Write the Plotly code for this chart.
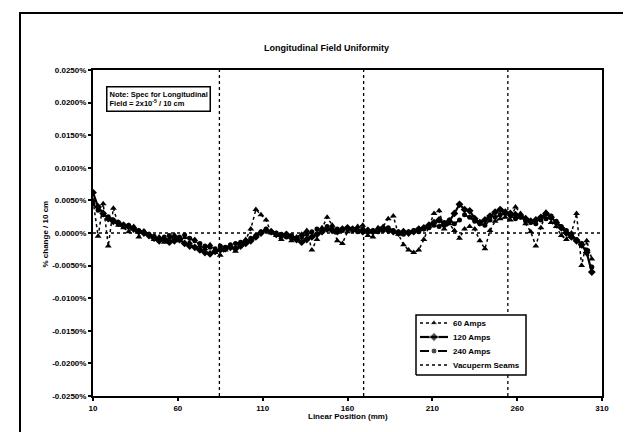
import plotly.graph_objects as go

# ---- data (values in % change / 10 cm) ----
positions = [10, 13, 16, 19, 22, 25, 28, 31, 34, 37, 40, 43, 46, 49, 52, 55, 58, 61, 64, 67,
             70, 73, 76, 79, 82, 85, 88, 91, 94, 97, 100, 103, 106, 109, 112, 115, 118, 121, 124, 127,
             130, 133, 136, 139, 142, 145, 148, 151, 154, 157, 160, 163, 166, 169, 172, 175, 178, 181, 184, 187,
             190, 193, 196, 199, 202, 205, 208, 211, 214, 217, 220, 223, 226, 229, 232, 235, 238, 241, 244, 247,
             250, 253, 256, 259, 262, 265, 268, 271, 274, 277, 280, 283, 286, 289, 292, 295, 298, 301, 304]

amps_120 = [0.0062, 0.0040, 0.0030, 0.0022, 0.0018, 0.0015, 0.0012, 0.0010, 0.0006, 0.0002,
            0.0000, -0.0004, -0.0008, -0.0012, -0.0010, -0.0014, -0.0012, -0.0010, -0.0016, -0.0020,
            -0.0022, -0.0026, -0.0030, -0.0032, -0.0028, -0.0026, -0.0024, -0.0022, -0.0024, -0.0020,
            -0.0016, -0.0012, -0.0006, 0.0000, 0.0004, 0.0002, -0.0002, -0.0004, -0.0002, -0.0006,
            -0.0010, -0.0014, -0.0010, -0.0006, -0.0002, 0.0002, 0.0006, 0.0004, 0.0002, 0.0006,
            0.0008, 0.0006, 0.0004, 0.0002, 0.0004, 0.0002, 0.0004, 0.0006, 0.0004, 0.0002,
            0.0000, 0.0002, 0.0000, 0.0002, 0.0006, 0.0008, 0.0012, 0.0016, 0.0020, 0.0012,
            0.0018, 0.0030, 0.0044, 0.0036, 0.0034, 0.0022, 0.0016, 0.0020, 0.0026, 0.0032,
            0.0036, 0.0032, 0.0030, 0.0028, 0.0026, 0.0022, 0.0018, 0.0020, 0.0024, 0.0030,
            0.0024, 0.0016, 0.0008, 0.0000, -0.0006, -0.0012, -0.0018, -0.0030, -0.0060]

amps_240 = [0.0045, 0.0035, 0.0028, 0.0025, 0.0020, 0.0016, 0.0010, 0.0012, 0.0008, 0.0004,
            0.0002, -0.0002, -0.0005, -0.0009, -0.0006, -0.0004, -0.0008, -0.0006, -0.0003, -0.0008,
            -0.0012, -0.0016, -0.0020, -0.0022, -0.0024, -0.0020, -0.0022, -0.0018, -0.0016, -0.0014,
            -0.0012, -0.0008, -0.0004, 0.0002, 0.0006, 0.0002, 0.0000, -0.0002, -0.0006, -0.0004,
            -0.0008, -0.0006, -0.0002, 0.0002, 0.0006, 0.0004, 0.0010, 0.0008, 0.0006, 0.0004,
            0.0006, 0.0004, 0.0002, 0.0006, 0.0002, 0.0004, 0.0002, 0.0004, 0.0008, 0.0004,
            0.0002, -0.0002, 0.0002, 0.0004, 0.0002, 0.0006, 0.0008, 0.0012, 0.0010, 0.0016,
            0.0020, 0.0014, 0.0020, 0.0028, 0.0024, 0.0018, 0.0014, 0.0012, 0.0020, 0.0024,
            0.0028, 0.0030, 0.0026, 0.0022, 0.0024, 0.0018, 0.0016, 0.0014, 0.0020, 0.0022,
            0.0026, 0.0018, 0.0010, 0.0004, -0.0004, -0.0010, -0.0016, -0.0026, -0.0052]

amps_60 = [0.0050, -0.0005, 0.0045, -0.0020, 0.0038, 0.0012, 0.0008, 0.0002, 0.0010, -0.0006,
           0.0003, -0.0002, -0.0010, -0.0006, -0.0014, -0.0008, -0.0003, -0.0012, -0.0007, -0.0015,
           -0.0010, -0.0020, -0.0024, -0.0018, -0.0030, -0.0034, -0.0026, -0.0020, -0.0028, -0.0016,
           -0.0010, 0.0006, 0.0036, 0.0028, 0.0020, 0.0000, -0.0004, -0.0010, -0.0004, -0.0012,
           -0.0006, -0.0002, 0.0004, -0.0026, -0.0010, 0.0008, 0.0024, 0.0012, -0.0012, -0.0016,
           0.0002, 0.0006, 0.0010, 0.0012, -0.0004, -0.0006, 0.0008, 0.0010, 0.0022, 0.0026,
           -0.0002, -0.0018, -0.0026, -0.0030, -0.0026, -0.0010, 0.0010, 0.0030, 0.0034, 0.0006,
           0.0014, 0.0004, -0.0008, 0.0006, 0.0010, 0.0006, -0.0012, -0.0024, 0.0004, 0.0018,
           0.0022, 0.0024, 0.0020, 0.0040, 0.0030, 0.0014, 0.0002, -0.0020, 0.0008, 0.0032,
           0.0016, 0.0010, -0.0004, -0.0010, 0.0000, 0.0030, -0.0050, -0.0012, -0.0040]

seam_positions = [84.5, 169.5, 254.5]

y_ticks = [0.025, 0.020, 0.015, 0.010, 0.005, 0.0, -0.005, -0.010, -0.015, -0.020, -0.025]
x_ticks = [10, 60, 110, 160, 210, 260, 310]

series_names = ["60 Amps", "120 Amps", "240 Amps", "Vacuperm Seams"]
title = "Longitudinal Field Uniformity"
x_title = "Linear Position (mm)"
y_title = "% change / 10 cm"
note = "Note: Spec for Longitudinal<br>Field = 2x10<sup>-5</sup> / 10 cm"

FONT = "Liberation Sans, Arial, sans-serif"

# plot area in pixels
W, H = 631, 432
L, R, T, B = 85, 594, 62, 388
pw, ph = R - L, B - T


def px(x):
    return (x - L) / pw


def py(y):
    return (B - y) / ph


styles = [
    dict(mode="lines+markers", line=dict(color="black", width=1.5, dash="dot"),
         marker=dict(symbol="triangle-up", size=6, color="black")),
    dict(mode="lines+markers", line=dict(color="black", width=2.2),
         marker=dict(symbol="diamond", size=6, color="black")),
    dict(mode="lines+markers", line=dict(color="black", width=1.8, dash="dash"),
         marker=dict(symbol="circle", size=5, color="black")),
    dict(mode="lines", line=dict(color="black", width=1.3, dash="dot")),
]

fig = go.Figure()

for name, vals, st in zip(series_names[:3], [amps_60, amps_120, amps_240], styles[:3]):
    fig.add_trace(go.Scatter(x=positions, y=vals, name=name, showlegend=False, **st))

sx, sy = [], []
for s in seam_positions:
    sx += [s, s, None]
    sy += [y_ticks[-1], y_ticks[0], None]
fig.add_trace(go.Scatter(x=sx, y=sy, name=series_names[3], showlegend=False, **styles[3]))

# zero reference line
fig.add_trace(go.Scatter(
    x=[x_ticks[0], x_ticks[-1]], y=[0, 0], mode="lines", showlegend=False,
    line=dict(color="black", width=1.3, dash="dot")))

# ---- compact legend drawn on an overlay axis spanning the plot area (0..1) ----
bx0, bx1, by0, by1 = px(408), px(518), py(367), py(307)
fig.add_trace(go.Scatter(
    x=[bx0, bx1, bx1, bx0, bx0], y=[by0, by0, by1, by1, by0],
    xaxis="x2", yaxis="y2", mode="lines", fill="toself", fillcolor="white",
    line=dict(color="black", width=1.5), showlegend=False, hoverinfo="skip"))
entry_y = [315, 329, 343, 357]
for name, st, ey in zip(series_names, styles, entry_y):
    kw = dict(mode=st["mode"], line=st["line"])
    if "marker" in st:
        m = dict(st["marker"])
        m["size"] = [0, m["size"] + 1, 0]
        kw["marker"] = m
    fig.add_trace(go.Scatter(
        x=[px(412), px(426), px(440)], y=[py(ey)] * 3, xaxis="x2", yaxis="y2",
        showlegend=False, hoverinfo="skip", cliponaxis=False, **kw))
    fig.add_annotation(text=f"<b>{name}</b>", xref="paper", yref="paper",
                       x=px(443), y=py(ey), xanchor="left", yanchor="middle",
                       showarrow=False, font=dict(family=FONT, size=8, color="black"))

axis_common = dict(
    showgrid=False, zeroline=False,
    showline=True, linecolor="black", linewidth=2, mirror=True,
    ticks="outside", ticklen=3, tickwidth=1.5, tickcolor="black",
    tickfont=dict(family=FONT, size=8, color="black", weight="bold"))

fig.update_layout(
    width=W, height=H,
    margin=dict(l=L, r=W - R, t=T, b=H - B, pad=0),
    paper_bgcolor="white", plot_bgcolor="white",
    font=dict(family=FONT, size=8, color="black"),
    showlegend=False,
    xaxis=dict(range=[10, 310], tickvals=x_ticks,
               ticktext=[str(v) for v in x_ticks], **axis_common),
    yaxis=dict(range=[-0.025, 0.025], tickvals=y_ticks,
               ticktext=[f"{v:.4f}%" for v in y_ticks], **axis_common),
    xaxis2=dict(overlaying="x", range=[0, 1], visible=False, fixedrange=True),
    yaxis2=dict(overlaying="y", range=[0, 1], visible=False, fixedrange=True),
)

# outer frame
fig.add_shape(type="rect", xref="paper", yref="paper",
              x0=px(12), x1=px(629), y0=py(445), y1=py(5),
              line=dict(color="black", width=2), layer="below")

fig.add_annotation(text=f"<b>{title}</b>", xref="paper", yref="paper",
                   x=px(318), y=py(33), showarrow=False,
                   font=dict(family=FONT, size=9, color="black"))
fig.add_annotation(text=f"<b>{x_title}</b>", xref="paper", yref="paper",
                   x=px(340), y=py(415), showarrow=False,
                   font=dict(family=FONT, size=8, color="black"))
fig.add_annotation(text=f"<b>{y_title}</b>", xref="paper", yref="paper",
                   x=px(30), y=py(226), showarrow=False, textangle=-90,
                   font=dict(family=FONT, size=8, color="black"))
fig.add_annotation(text=f"<b>{note}</b>", xref="paper", yref="paper",
                   x=px(98), y=py(78), xanchor="left", yanchor="top",
                   align="left", showarrow=False,
                   bordercolor="black", borderwidth=1.5, borderpad=2,
                   bgcolor="white",
                   font=dict(family=FONT, size=7.5, color="black"))

fig.write_html("out.html")
